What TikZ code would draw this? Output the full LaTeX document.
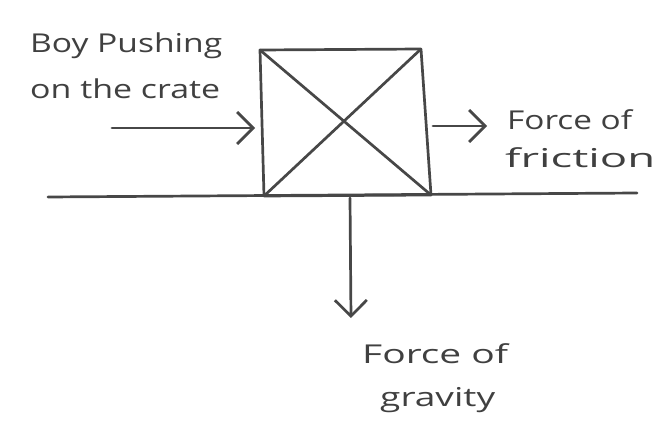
\documentclass[tikz,border=0pt]{standalone}
\usepackage{fontspec}
\usepackage{graphicx}
\setmainfont{Open Sans}
\usetikzlibrary{arrows.meta}
\tikzset{
  pencil/.style={draw=black!72, line width=2.7pt, line cap=round, line join=round},
  arr/.style={pencil, -{Straight Barb[length=16pt,width=32pt,line width=2.7pt]}},
  lbl/.style={text=black!75, font=\fontsize{26}{30}\selectfont, inner sep=0pt, anchor=west}
}
\newcommand{\fitw}[2]{\resizebox{#1}{\height}{#2}}
\begin{document}
\begin{tikzpicture}[x=1pt,y=-1pt]
\useasboundingbox (0,0) rectangle (657,444);
% crate
\coordinate (tl) at (260,50);
\coordinate (tr) at (421,49);
\coordinate (br) at (431,195);
\coordinate (bl) at (264,196);
\draw[pencil] (tl) -- (tr) -- (br) -- (bl) -- cycle;
\draw[pencil] (tl) -- (br);
\draw[pencil] (tr) -- (bl);
% ground
\coordinate (g1) at (48,197);
\coordinate (g2) at (637,193);
\draw[pencil] (g1) -- (g2);
% arrows
\coordinate (a1) at (112,128);
\coordinate (a2) at (255,128);
\draw[arr] (a1) -- (a2);
\coordinate (b1) at (433,126);
\coordinate (b2) at (487,126);
\draw[arr] (b1) -- (b2);
\coordinate (c1) at (350,198);
\coordinate (c2) at (351,318);
\draw[arr] (c1) -- (c2);
% labels
\node[lbl] (boy) at (30,46) {\fitw{192pt}{Boy Pushing}};
\node[lbl] (crate) at (30,89) {\fitw{190pt}{on the crate}};
\node[lbl] (ff1) at (507,120) {\fitw{125pt}{Force of}};
\node[lbl] (ff2) at (505,158) {\fitw{150pt}{friction}};
\node[lbl] (fg1) at (362,354) {\fitw{146pt}{Force of}};
\node[lbl] (fg2) at (380,400) {\fitw{115pt}{gravity}};
\end{tikzpicture}
\end{document}
